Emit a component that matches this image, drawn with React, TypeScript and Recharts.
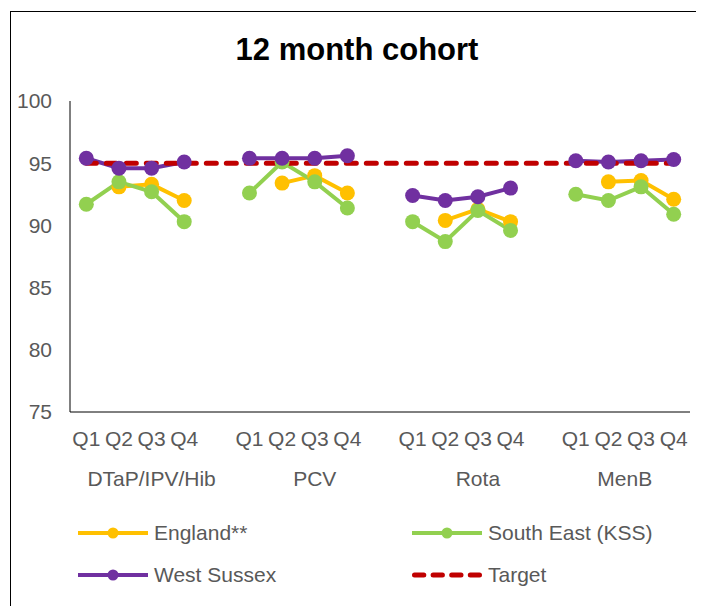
import { LineChart, Line, XAxis, YAxis } from "recharts";

const groups = ["DTaP/IPV/Hib", "PCV", "Rota", "MenB"];
const quarters = ["Q1", "Q2", "Q3", "Q4"];

// one array of four quarters per vaccine group
const england = [
  [null, 93.1, 93.3, 92.0],
  [null, 93.4, 94.0, 92.6],
  [null, 90.4, 91.3, 90.3],
  [null, 93.5, 93.6, 92.1],
];
const southEast = [
  [91.7, 93.5, 92.7, 90.3],
  [92.6, 95.1, 93.5, 91.4],
  [90.3, 88.7, 91.2, 89.6],
  [92.5, 92.0, 93.1, 90.9],
];
const westSussex = [
  [95.4, 94.6, 94.6, 95.1],
  [95.4, 95.4, 95.4, 95.6],
  [92.4, 92.0, 92.3, 93.0],
  [95.2, 95.1, 95.2, 95.3],
];
const TARGET = 95;
const yTicks = [75, 80, 85, 90, 95, 100];

const series = [
  { key: "england", name: "England**", color: "#FFC000" },
  { key: "southEast", name: "South East (KSS)", color: "#92D050" },
  { key: "westSussex", name: "West Sussex", color: "#7030A0" },
];
const targetColor = "#C00000";
const TEXT = "#595959";
const FONT = "'Liberation Sans', Arial, sans-serif";

// build rows with one empty category between groups
const data: any[] = [];
groups.forEach((g, gi) => {
  quarters.forEach((q, qi) => {
    data.push({
      key: `${g}-${q}`,
      q,
      group: gi,
      england: england[gi][qi],
      southEast: southEast[gi][qi],
      westSussex: westSussex[gi][qi],
      target: TARGET,
    });
  });
  if (gi < groups.length - 1) {
    data.push({ key: `gap-${gi}`, q: "", group: gi, target: TARGET });
  }
});

const W = 696;
const H = 500;
const margin = { top: 93, right: 14, left: 12, bottom: 16 };
const Y_WIDTH = 50;
const plotW = W - margin.left - margin.right - Y_WIDTH;
const band = plotW / data.length;
const pad = { left: band / 2, right: band / 2 };

// centre of each group (its quarters plus trailing gap) in category index units
const groupCenters = groups.map((_, gi) => {
  const idx = data.map((d, i) => (d.group === gi ? i : -1)).filter((i) => i >= 0);
  return (idx[0] + idx[idx.length - 1]) / 2;
});

function QuarterTick(props: any) {
  const { x, y, payload } = props;
  const i = payload.index;
  const row = data[i];
  const gi = groupCenters.findIndex((c) => Math.floor(c) === i);
  return (
    <g>
      {row.q && (
        <text x={x} y={y + 26} textAnchor="middle" dominantBaseline="central" fill={TEXT} fontSize={21}>
          {row.q}
        </text>
      )}
      {gi >= 0 && (
        <text
          x={x + (groupCenters[gi] - i) * band}
          y={y + 66}
          textAnchor="middle"
          dominantBaseline="central"
          fill={TEXT}
          fontSize={21}
        >
          {groups[gi]}
        </text>
      )}
    </g>
  );
}

function LegendIcon({ color, dashed }: { color: string; dashed?: boolean }) {
  return (
    <svg width={70} height={20} style={{ display: "block" }}>
      {dashed ? (
        <line x1={2.5} y1={10} x2={67.5} y2={10} stroke={color} strokeWidth={5} strokeDasharray="9.3 9.3" strokeLinecap="round" />
      ) : (
        <>
          <line x1={0} y1={10} x2={70} y2={10} stroke={color} strokeWidth={4} />
          <circle cx={35} cy={10} r={5.5} fill={color} />
        </>
      )}
    </svg>
  );
}

const legendItems = [
  { ...series[0], dashed: false, left: 70, top: 525 },
  { ...series[1], dashed: false, left: 404, top: 525 },
  { ...series[2], dashed: false, left: 70, top: 567 },
  { key: "target", name: "Target", color: targetColor, dashed: true, left: 404, top: 567 },
];

export default function App() {
  return (
    <div style={{ position: "relative", width: W, height: 598, fontFamily: FONT, overflow: "hidden" }}>
      <div
        style={{
          position: "absolute",
          left: 2,
          top: 3,
          width: 685,
          height: 620,
          border: "1px solid #000",
        }}
      />
      <div
        style={{
          position: "absolute",
          left: 0,
          top: 25,
          width: 698,
          textAlign: "center",
          fontSize: 31,
          fontWeight: "bold",
          lineHeight: "34px",
          color: "#000",
        }}
      >
        12 month cohort
      </div>
      <div style={{ position: "absolute", left: 0, top: 0 }}>
        <LineChart width={W} height={H} data={data} margin={margin}>
          <XAxis
            dataKey="key"
            interval={0}
            padding={pad}
            tickLine={false}
            tickSize={0}
            tickMargin={0}
            height={80}
            axisLine={{ stroke: "#000", strokeWidth: 1 }}
            tick={<QuarterTick />}
          />
          <XAxis xAxisId="top" dataKey="key" orientation="top" padding={pad} height={0} tick={false} tickLine={false} axisLine={{ stroke: "#000", strokeWidth: 1 }} />
          <YAxis
            domain={[75, 100]}
            ticks={yTicks}
            width={Y_WIDTH}
            tickLine={false}
            tickSize={0}
            tickMargin={18}
            axisLine={{ stroke: "#000", strokeWidth: 1 }}
            tick={{ fill: TEXT, fontSize: 21 }}
          />
          <YAxis yAxisId="right" orientation="right" domain={[75, 100]} width={0} tick={false} tickLine={false} axisLine={{ stroke: "#000", strokeWidth: 1 }} />
          {series.map((s) => (
            <Line
              key={s.key}
              dataKey={s.key}
              name={s.name}
              stroke={s.color}
              strokeWidth={4}
              dot={{ r: 7.5, fill: s.color, stroke: s.color, strokeWidth: 0 }}
              activeDot={false}
              connectNulls={false}
              isAnimationActive={false}
            />
          ))}
          <Line
            dataKey="target"
            name="Target"
            stroke={targetColor}
            strokeWidth={5}
            strokeDasharray="10 10"
            strokeLinecap="round"
            dot={false}
            activeDot={false}
            isAnimationActive={false}
          />
        </LineChart>
      </div>
      {legendItems.map((it) => (
        <div
          key={it.key}
          style={{
            position: "absolute",
            left: it.left,
            top: it.top - 12,
            height: 24,
            display: "flex",
            alignItems: "center",
            gap: 6,
            color: TEXT,
            fontSize: 21,
          }}
        >
          <LegendIcon color={it.color} dashed={it.dashed} />
          <span>{it.name}</span>
        </div>
      ))}
    </div>
  );
}
